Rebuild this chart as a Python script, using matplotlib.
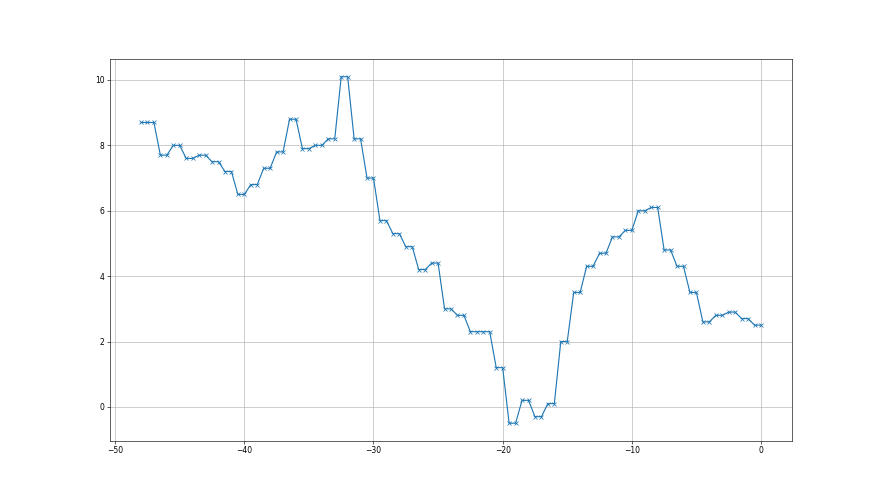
import matplotlib
matplotlib.use("Agg")
import matplotlib.pyplot as plt

# x positions (half-unit steps) and values
x_vals = [
    -48.0, -47.5, -47.0, -46.5, -46.0, -45.5, -45.0, -44.5, -44.0, -43.5,
    -43.0, -42.5, -42.0, -41.5, -41.0, -40.5, -40.0, -39.5, -39.0, -38.5,
    -38.0, -37.5, -37.0, -36.5, -36.0, -35.5, -35.0, -34.5, -34.0, -33.5,
    -33.0, -32.5, -32.0, -31.5, -31.0, -30.5, -30.0, -29.5, -29.0, -28.5,
    -28.0, -27.5, -27.0, -26.5, -26.0, -25.5, -25.0, -24.5, -24.0, -23.5,
    -23.0, -22.5, -22.0, -21.5, -21.0, -20.5, -20.0, -19.5, -19.0, -18.5,
    -18.0, -17.5, -17.0, -16.5, -16.0, -15.5, -15.0, -14.5, -14.0, -13.5,
    -13.0, -12.5, -12.0, -11.5, -11.0, -10.5, -10.0, -9.5, -9.0, -8.5,
    -8.0, -7.5, -7.0, -6.5, -6.0, -5.5, -5.0, -4.5, -4.0, -3.5,
    -3.0, -2.5, -2.0, -1.5, -1.0, -0.5, 0.0,
]
y_vals = [
    8.7, 8.7, 8.7, 7.7, 7.7, 8.0, 8.0, 7.6, 7.6, 7.7,
    7.7, 7.5, 7.5, 7.2, 7.2, 6.5, 6.5, 6.8, 6.8, 7.3,
    7.3, 7.8, 7.8, 8.8, 8.8, 7.9, 7.9, 8.0, 8.0, 8.2,
    8.2, 10.1, 10.1, 8.2, 8.2, 7.0, 7.0, 5.7, 5.7, 5.3,
    5.3, 4.9, 4.9, 4.2, 4.2, 4.4, 4.4, 3.0, 3.0, 2.8,
    2.8, 2.3, 2.3, 2.3, 2.3, 1.2, 1.2, -0.5, -0.5, 0.2,
    0.2, -0.3, -0.3, 0.1, 0.1, 2.0, 2.0, 3.5, 3.5, 4.3,
    4.3, 4.7, 4.7, 5.2, 5.2, 5.4, 5.4, 6.0, 6.0, 6.1,
    6.1, 4.8, 4.8, 4.3, 4.3, 3.5, 3.5, 2.6, 2.6, 2.8,
    2.8, 2.9, 2.9, 2.7, 2.7, 2.5, 2.5,
]

fig, ax = plt.subplots(figsize=(16, 9), dpi=55)
ax.plot(x_vals, y_vals, marker="x", color="tab:blue")
ax.grid(True)

fig.savefig("out.png", dpi=55)
